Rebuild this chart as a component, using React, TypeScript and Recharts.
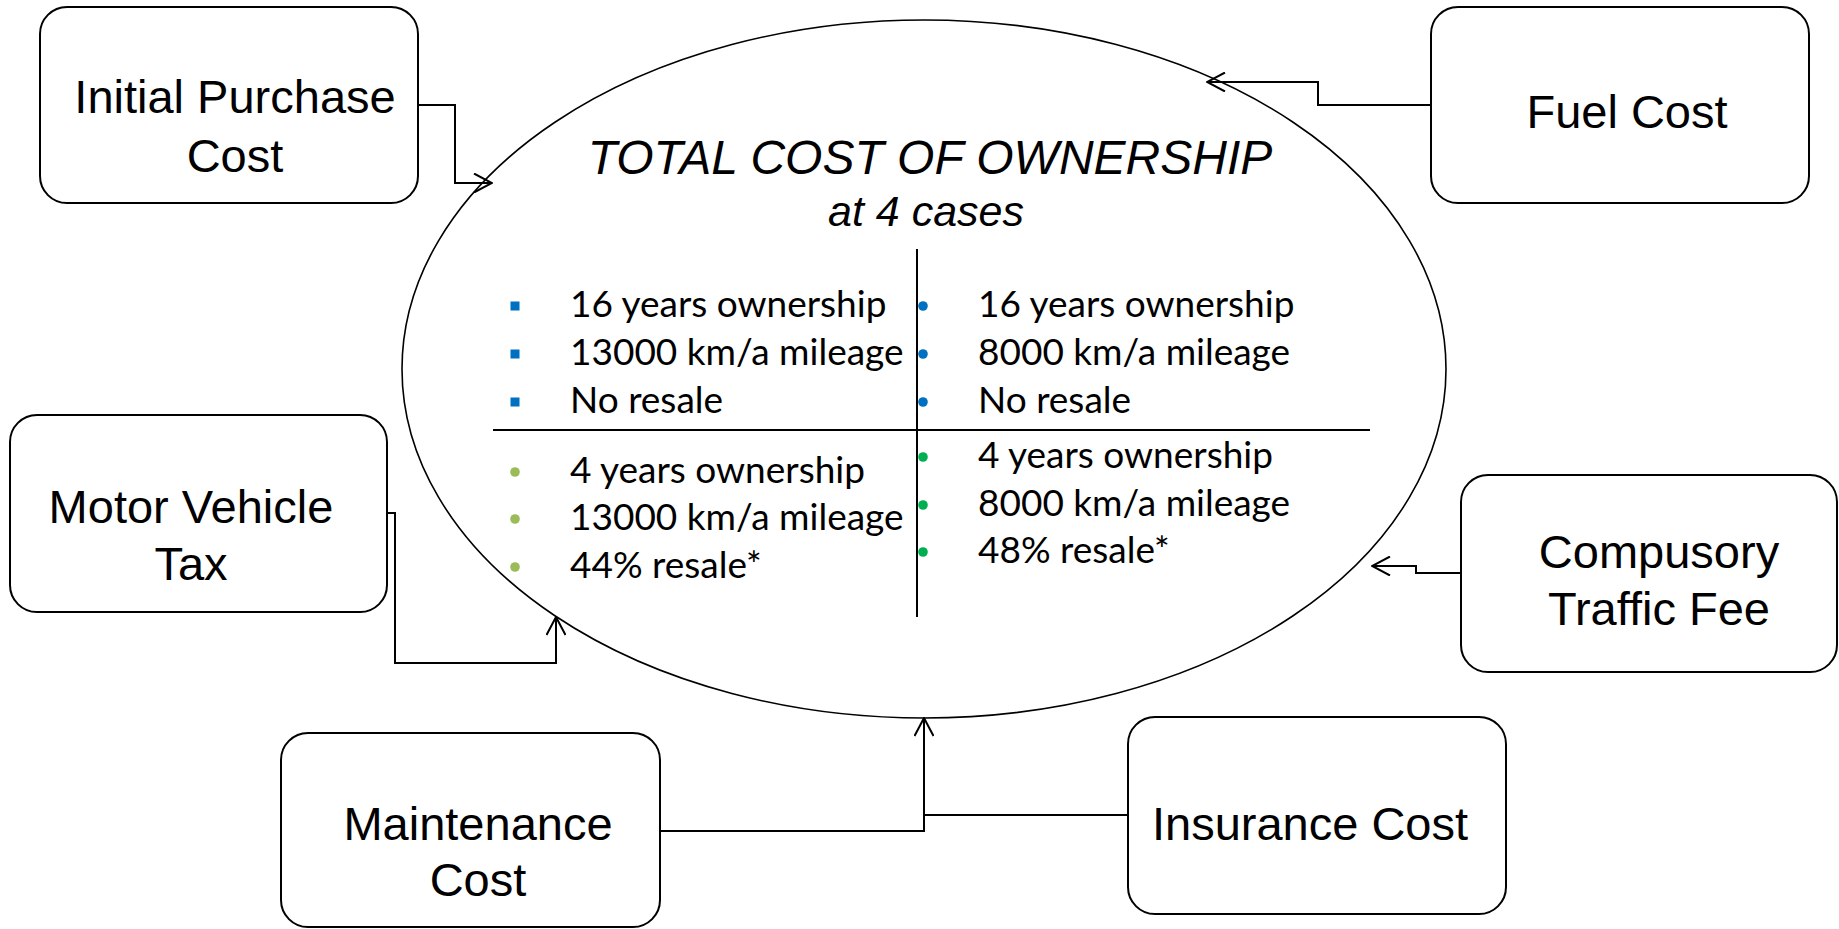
import {
  ComposedChart, XAxis, YAxis, Line, Scatter, ReferenceArea, ReferenceLine,
} from 'recharts';

// Sơ đồ "Total cost of ownership": 6 ô yếu tố chi phí quanh một hình elip.
// Toàn bộ toạ độ là đơn vị của trục (0..1839 x 0..929), vẽ qua scale của Recharts.

const W = 1839;
const H = 929;

const BOX_FONT = '"Liberation Sans", Arial, sans-serif';
const BULLET_FONT = 'Lato, "Noto Sans", sans-serif';
const BLUE = '#0070C0';
const LIGHT_GREEN = '#9BBB59';
const GREEN = '#00B050';

// các ô yếu tố chi phí
const factorBoxes = [
  { name: 'Initial Purchase Cost', x1: 40, x2: 418, y1: 7, y2: 203 },
  { name: 'Fuel Cost', x1: 1431, x2: 1809, y1: 7, y2: 203 },
  { name: 'Motor Vehicle Tax', x1: 10, x2: 387, y1: 415, y2: 612 },
  { name: 'Compusory Traffic Fee', x1: 1461, x2: 1837, y1: 475, y2: 672 },
  { name: 'Maintenance Cost', x1: 281, x2: 660, y1: 733, y2: 927 },
  { name: 'Insurance Cost', x1: 1128, x2: 1506, y1: 717, y2: 914 },
];

const centerEllipse = { x1: 402, x2: 1446, y1: 20, y2: 718 };

// chữ trong các ô (mỗi dòng một điểm)
const boxLabels = [
  { x: 235, y: 113, text: 'Initial Purchase' },
  { x: 235, y: 172, text: 'Cost' },
  { x: 1627, y: 128, text: 'Fuel Cost' },
  { x: 191, y: 523, text: 'Motor Vehicle' },
  { x: 191, y: 580, text: 'Tax' },
  { x: 1659, y: 568, text: 'Compusory' },
  { x: 1659, y: 625, text: 'Traffic Fee' },
  { x: 478, y: 840, text: 'Maintenance' },
  { x: 478, y: 896, text: 'Cost' },
  { x: 1310, y: 840, text: 'Insurance Cost' },
];

const titleLabel = [{ x: 930, y: 174, text: 'TOTAL COST OF OWNERSHIP' }];
const subtitleLabel = [{ x: 926, y: 226, text: 'at 4 cases' }];

// 4 trường hợp
const case16y13k = ['16 years ownership', '13000 km/a mileage', 'No resale'];
const case16y8k = ['16 years ownership', '8000 km/a mileage', 'No resale'];
const case4y13k = ['4 years ownership', '13000 km/a mileage', '44% resale*'];
const case4y8k = ['4 years ownership', '8000 km/a mileage', '48% resale*'];

// vị trí dòng (baseline) và gạch đầu dòng
const upperRows = [317, 365, 413];
const lowerLeftRows = [483, 530, 578];
const lowerRightRows = [468, 516, 563];
const LEFT_TEXT_X = 570;
const RIGHT_TEXT_X = 978;
const LEFT_BULLET_X = 515;
const RIGHT_BULLET_X = 923;
const BULLET_RISE = 11; // tâm gạch đầu dòng nằm trên baseline

const rows = (texts: string[], ys: number[], x: number) =>
  texts.map((text, i) => ({ x, y: ys[i], text }));
const bullets = (ys: number[], x: number) =>
  ys.map((y) => ({ x, y: y - BULLET_RISE }));

// đường nối (điểm cuối có mũi tên)
const ipcLink = [{ x: 418, y: 105 }, { x: 455, y: 105 }, { x: 455, y: 183 }, { x: 492, y: 183 }];
const fuelLink = [{ x: 1431, y: 105 }, { x: 1318, y: 105 }, { x: 1318, y: 82 }, { x: 1207, y: 82 }];
const mvtLink = [{ x: 387, y: 513 }, { x: 395, y: 513 }, { x: 395, y: 663 }, { x: 556, y: 663 }, { x: 556, y: 617 }];
const ctfLink = [{ x: 1461, y: 573 }, { x: 1416, y: 573 }, { x: 1416, y: 566 }, { x: 1372, y: 566 }];
const mcLink = [{ x: 660, y: 831 }, { x: 924, y: 831 }, { x: 924, y: 718 }];
const icLink = [{ x: 1128, y: 815 }, { x: 924, y: 815 }];

const arrowLinks = [ipcLink, fuelLink, mvtLink, ctfLink, mcLink];

const RoundBox = (p: any) => (
  <rect x={p.x} y={p.y} width={p.width} height={p.height} rx={27} ry={27}
    fill="none" stroke="#000" strokeWidth={2} />
);

const EllipseShape = (p: any) => (
  <ellipse cx={p.x + p.width / 2} cy={p.y + p.height / 2} rx={p.width / 2} ry={p.height / 2}
    fill="none" stroke="#000" strokeWidth={1.6} />
);

const textShape = (style: Record<string, any>) => (p: any) => (
  <text x={p.cx} y={p.cy} fill="#000" {...style}>{p.payload.text}</text>
);

const squareShape = (color: string) => (p: any) => (
  <rect x={p.cx - 4.5} y={p.cy - 4.5} width={9} height={9} fill={color} />
);
const dotShape = (color: string) => (p: any) => (
  <circle cx={p.cx} cy={p.cy} r={4.8} fill={color} />
);

export default function App() {
  return (
    <div style={{ position: 'fixed', left: 0, top: 0, width: W, height: H, background: '#fff' }}>
      <ComposedChart width={W} height={H} margin={{ top: 0, right: 0, bottom: 0, left: 0 }}>
        <defs>
          <marker id="arrowHead" viewBox="0 0 20 20" refX={19} refY={10}
            markerWidth={20} markerHeight={20} markerUnits="userSpaceOnUse" orient="auto">
            <path d="M1,0.5 L19,10 L1,19.5" fill="none" stroke="#000" strokeWidth={2} />
          </marker>
        </defs>
        <XAxis type="number" dataKey="x" domain={[0, W]} allowDataOverflow hide />
        <YAxis type="number" dataKey="y" domain={[0, H]} allowDataOverflow reversed hide />

        <ReferenceArea x1={centerEllipse.x1} x2={centerEllipse.x2} y1={centerEllipse.y1}
          y2={centerEllipse.y2} shape={EllipseShape} />
        {factorBoxes.map((b) => (
          <ReferenceArea key={b.name} x1={b.x1} x2={b.x2} y1={b.y1} y2={b.y2} shape={RoundBox} />
        ))}

        <ReferenceLine segment={[{ x: 493, y: 430 }, { x: 1370, y: 430 }]} stroke="#000" strokeWidth={2} />
        <ReferenceLine segment={[{ x: 917, y: 249 }, { x: 917, y: 617 }]} stroke="#000" strokeWidth={2} />

        {arrowLinks.map((d, i) => (
          <Line key={`link${i}`} data={d} dataKey="y" type="linear" stroke="#000" strokeWidth={2}
            dot={false} activeDot={false} isAnimationActive={false} markerEnd="url(#arrowHead)" />
        ))}
        <Line data={icLink} dataKey="y" type="linear" stroke="#000" strokeWidth={2}
          dot={false} activeDot={false} isAnimationActive={false} />

        <Scatter data={boxLabels} dataKey="y" isAnimationActive={false}
          shape={textShape({ fontFamily: BOX_FONT, fontSize: 47, textAnchor: 'middle' })} />
        <Scatter data={titleLabel} dataKey="y" isAnimationActive={false}
          shape={textShape({ fontFamily: BOX_FONT, fontSize: 48, fontStyle: 'italic', textAnchor: 'middle' })} />
        <Scatter data={subtitleLabel} dataKey="y" isAnimationActive={false}
          shape={textShape({ fontFamily: BOX_FONT, fontSize: 43, fontStyle: 'italic', textAnchor: 'middle' })} />

        <Scatter data={rows(case16y13k, upperRows, LEFT_TEXT_X)} dataKey="y" isAnimationActive={false}
          shape={textShape({ fontFamily: BULLET_FONT, fontSize: 37 })} />
        <Scatter data={rows(case16y8k, upperRows, RIGHT_TEXT_X)} dataKey="y" isAnimationActive={false}
          shape={textShape({ fontFamily: BULLET_FONT, fontSize: 37 })} />
        <Scatter data={rows(case4y13k, lowerLeftRows, LEFT_TEXT_X)} dataKey="y" isAnimationActive={false}
          shape={textShape({ fontFamily: BULLET_FONT, fontSize: 37 })} />
        <Scatter data={rows(case4y8k, lowerRightRows, RIGHT_TEXT_X)} dataKey="y" isAnimationActive={false}
          shape={textShape({ fontFamily: BULLET_FONT, fontSize: 37 })} />

        <Scatter data={bullets(upperRows, LEFT_BULLET_X)} dataKey="y" isAnimationActive={false}
          shape={squareShape(BLUE)} />
        <Scatter data={bullets(upperRows, RIGHT_BULLET_X)} dataKey="y" isAnimationActive={false}
          shape={dotShape(BLUE)} />
        <Scatter data={bullets(lowerLeftRows, LEFT_BULLET_X)} dataKey="y" isAnimationActive={false}
          shape={dotShape(LIGHT_GREEN)} />
        <Scatter data={bullets(lowerRightRows, RIGHT_BULLET_X)} dataKey="y" isAnimationActive={false}
          shape={dotShape(GREEN)} />
      </ComposedChart>
    </div>
  );
}
